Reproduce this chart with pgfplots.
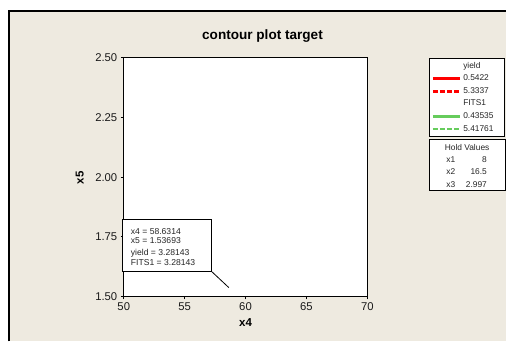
\documentclass[border=0pt]{standalone}
\usepackage{fontspec}
\setmainfont{Liberation Sans}
\usepackage{pgfplots}
\pgfplotsset{compat=1.18}
\definecolor{bg}{RGB}{238,234,224}
\definecolor{cred}{RGB}{255,0,0}
\definecolor{cgreen}{RGB}{102,204,92}
\newcommand{\fs}[1]{\fontsize{#1bp}{#1bp}\selectfont}
\begin{document}
\begin{tikzpicture}[x=1bp,y=1bp]
\fill[white] (0,0) rectangle (507,342);
\fill[bg] (8,0) rectangle (507,332);
\draw[line width=2bp] (9,0) -- (9,331) -- (507,331);
\begin{axis}[
  at={(124bp,45bp)}, anchor=south west,
  scale only axis, width=244bp, height=239bp,
  xmin=50, xmax=70, ymin=1.5, ymax=2.5,
  xtick={50,55,60,65,70},
  ytick={1.5,1.75,2,2.25,2.5},
  xtick pos=left, ytick pos=left,
  tick align=outside,
  major tick length=3bp,
  tick style={black, line width=0.8bp},
  axis line style={black, line width=0.8bp},
  axis background/.style={fill=white},
  /pgf/number format/assume math mode=true,
  yticklabel style={/pgf/number format/.cd, fixed, fixed zerofill, precision=2},
  ticklabel style={font=\fs{11.3}, text=black!90},
  legend style={at={(1.254,1)}, anchor=north west, draw=black, line width=0.8bp,
    fill=white, font=\fs{8.4}, inner xsep=2bp, inner ysep=1.5bp, row sep=0pt,
    column sep=0pt,
    nodes={inner xsep=2bp, inner ysep=0bp, minimum height=12.6bp, text width=37bp, align=left, text=black!85}},
  legend cell align=left,
  legend image code/.code={\draw[#1] (0bp,0bp) -- (27bp,0bp);},
]
\addlegendimage{empty legend}\addlegendentry{yield}
\addlegendimage{cred, line width=2.8bp}\addlegendentry{0.5422}
\addlegendimage{cred, line width=2.8bp, dash pattern=on 5bp off 2bp}\addlegendentry{5.3337}
\addlegendimage{empty legend}\addlegendentry{FITS1}
\addlegendimage{cgreen, line width=2.8bp}\addlegendentry{0.43535}
\addlegendimage{cgreen, line width=2.8bp, dash pattern=on 5bp off 2bp}\addlegendentry{5.41761}
\coordinate (pt) at (axis cs:58.6314,1.53693);
\end{axis}
% title and labels
\node[font=\bfseries\fs{13.6}] at (263,306) {contour plot target};
\node[font=\bfseries\fs{11.5}] at (246,19) {x4};
\node[font=\bfseries\fs{11.5}, rotate=90] at (80,164) {x5};
% annotation
\draw[black, line width=0.8bp] (212,70) -- (pt);
\draw[fill=white, line width=0.8bp] (123,70) rectangle (212,122);
\begin{scope}[every node/.style={anchor=west, inner sep=0pt, font=\fs{8.6}, text=black!85}]
\node at (131,110.5) {x4 = 58.6314};
\node at (131,100.5) {x5 = 1.53693};
\node at (131,88.5) {yield = 3.28143};
\node at (131,78.5) {FITS1 = 3.28143};
\end{scope}
% hold values box
\draw[fill=white, line width=0.8bp] (430,151) rectangle (506,202);
\begin{scope}[every node/.style={inner sep=0pt, font=\fs{8.4}, text=black!85}]
\node at (468,194) {Hold Values};
\node[anchor=west] at (447,182) {x1};
\node[anchor=west] at (447,170) {x2};
\node[anchor=west] at (447,157) {x3};
\node[anchor=east] at (488,182) {8};
\node[anchor=east] at (488,170) {16.5};
\node[anchor=east] at (488,157) {2.997};
\end{scope}
\end{tikzpicture}
\end{document}
